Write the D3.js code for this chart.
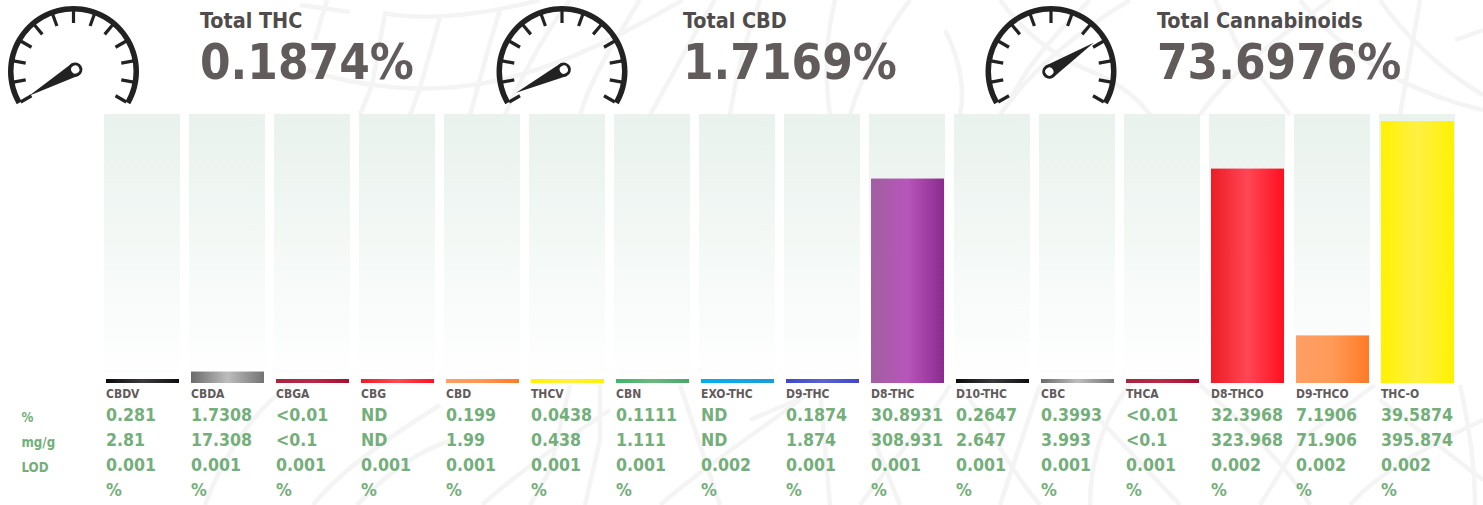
<!DOCTYPE html>
<html>
<head>
<meta charset="utf-8">
<style>
  html, body { margin: 0; padding: 0; background: #fff; }
  text { font-family: "DejaVu Sans Condensed", "DejaVu Sans", sans-serif; font-weight: bold; font-stretch: condensed; }
</style>
<script src="https://cdn.jsdelivr.net/npm/d3@7"></script>
</head>
<body>
<div id="chart"></div>
<script>
const categories = ['CBDV', 'CBDA', 'CBGA', 'CBG', 'CBD', 'THCV', 'CBN', 'EXO-THC', 'D9-THC', 'D8-THC', 'D10-THC', 'CBC', 'THCA', 'D8-THCO', 'D9-THCO', 'THC-O']
const percentLabels = ['0.281', '1.7308', '<0.01', 'ND', '0.199', '0.0438', '0.1111', 'ND', '0.1874', '30.8931', '0.2647', '0.3993', '<0.01', '32.3968', '7.1906', '39.5874']
const mgLabels = ['2.81', '17.308', '<0.1', 'ND', '1.99', '0.438', '1.111', 'ND', '1.874', '308.931', '2.647', '3.993', '<0.1', '323.968', '71.906', '395.874']
const lodLabels = ['0.001', '0.001', '0.001', '0.001', '0.001', '0.001', '0.001', '0.002', '0.001', '0.001', '0.001', '0.001', '0.001', '0.002', '0.002', '0.002']
const unitLabels = categories.map(() => '%')
const rowNames = ['%', 'mg/g', 'LOD']

const gaugeTitles = ['Total THC', 'Total CBD', 'Total Cannabinoids']
const gaugeValues = [0.1874, 1.7169, 73.6976]

// left, middle, right colour of each bar's sheen
const barColors = [
  ['#0a0a0a', '#3c3a40', '#0f0f0f'],
  ['#6a6a6a', '#bdbdbd', '#737373'],
  ['#a8253f', '#b82a45', '#a80f30'],
  ['#ee1c25', '#ff4a55', '#ff1020'],
  ['#ff9e66', '#ff9550', '#ff7a25'],
  ['#fff200', '#fff040', '#fff200'],
  ['#3cb868', '#6ab880', '#48a868'],
  ['#00aeef', '#10a8e8', '#1a9cd8'],
  ['#3f48cc', '#5a62d0', '#3f48cc'],
  ['#a0609f', '#b855bb', '#8a2a8f'],
  ['#0a0a0a', '#3c3a40', '#0f0f0f'],
  ['#6a6a6a', '#bdbdbd', '#737373'],
  ['#a8253f', '#b82a45', '#a80f30'],
  ['#ed1c24', '#ff4655', '#ff1020'],
  ['#ff9e66', '#ff9a58', '#ff7a25'],
  ['#fff200', '#fff044', '#fff200']
]

// faint wireframe behind everything
const watermark = [
  'M383,13 C420,20 470,18 540,0',
  'M300,68 C360,88 430,96 500,80 C570,64 630,30 683,0',
  'M327,0 L315,40', 'M385,14 L372,85 L360,115', 'M440,17 L420,88 L410,115',
  'M500,10 C490,40 480,80 470,115', 'M570,0 C540,40 520,80 505,115',
  'M640,0 C615,40 590,80 580,115', 'M715,0 C690,40 670,80 650,115',
  'M300,5 L350,12', 'M760,0 C745,40 735,80 730,115', 'M835,0 C825,40 825,80 830,115',
  'M910,0 C880,40 860,80 850,115', 'M945,30 C960,60 965,90 960,115',
  'M1000,0 C1030,40 1060,60 1100,75 C1120,85 1140,100 1150,115',
  'M1000,115 C1030,70 1080,30 1130,0',
  'M1090,0 C1060,30 1030,60 1010,100', 'M1200,115 C1230,70 1290,30 1330,0',
  'M1290,115 L1240,50 L1215,0', 'M1300,0 C1340,50 1400,90 1483,110',
  'M1380,0 C1400,30 1440,70 1483,95', 'M1420,0 L1400,115', 'M1455,40 L1483,30',
  'M205,505 C225,450 260,405 290,385', 'M313,505 C340,470 400,430 440,405',
  'M357,505 C390,470 420,450 452,440', 'M482,505 C520,470 580,430 610,410',
  'M530,505 L550,470 L570,385', 'M585,505 L600,440 L600,385', 'M660,505 C700,470 760,430 800,400',
  'M680,385 L720,505', 'M750,420 L820,390 L830,505', 'M860,505 C900,450 930,420 950,385',
  'M900,505 L870,430', 'M960,385 C985,420 1010,470 1040,505', 'M1040,385 L1000,505',
  'M1130,385 C1100,420 1090,470 1090,505', 'M1100,420 L1180,505', 'M1200,385 C1250,430 1290,470 1310,505',
  'M1260,505 L1300,440 L1375,385', 'M1350,505 C1380,470 1440,440 1483,420', 'M1380,400 L1483,480',
  'M1460,385 C1470,430 1475,470 1475,505'
]

const width = 1483
const height = 505
const trackTop = 114
const baseY = 383
const dark = '#625b5b'
const titleInk = '#504c4c'
const green = '#74ae7a'
const gaugeInk = '#222'

const svg = d3
  .select('#chart')
  .append('svg')
  .attr('width', width)
  .attr('height', height)
  .style('display', 'block')

const defs = svg.append('defs')

const trackGrad = defs
  .append('linearGradient')
  .attr('id', 'track')
  .attr('x1', 0)
  .attr('x2', 0)
  .attr('y1', 0)
  .attr('y2', 1)
trackGrad.append('stop').attr('offset', 0).attr('stop-color', '#e9f2ed')
trackGrad.append('stop').attr('offset', 1).attr('stop-color', '#ffffff')

barColors.forEach((c, i) => {
  const grad = defs.append('linearGradient').attr('id', 'bar' + i)
  c.forEach((col, j) => {
    grad.append('stop').attr('offset', j / 2).attr('stop-color', col)
  })
})

svg
  .append('g')
  .selectAll('path')
  .data(watermark)
  .enter()
  .append('path')
  .attr('d', d => d)
  .attr('fill', 'none')
  .attr('stroke', '#f4f4f4')
  .attr('stroke-width', 4.5)

const x = d3
  .scaleBand()
  .domain(categories)
  .range([104, 1455])
  .paddingInner(9 / 85)
const y = d3
  .scaleLinear()
  .domain([0, d3.max(percentLabels, d => parseFloat(d) || 0)])
  .range([baseY, 121])

// tracks
svg
  .append('g')
  .selectAll('rect')
  .data(categories)
  .enter()
  .append('rect')
  .attr('x', d => x(d))
  .attr('y', trackTop)
  .attr('width', x.bandwidth())
  .attr('height', baseY - trackTop)
  .attr('fill', 'url(#track)')

// bars, anything under the minimum still shows a 4px sliver
svg
  .append('g')
  .selectAll('rect')
  .data(percentLabels)
  .enter()
  .append('rect')
  .attr('x', (d, i) => x(categories[i]) + 2)
  .attr('y', d => Math.min(y(parseFloat(d) || 0), baseY - 4))
  .attr('width', 73)
  .attr('height', d => Math.max(baseY - y(parseFloat(d) || 0), 4))
  .attr('fill', (d, i) => `url(#bar${i})`)

// category names
svg
  .append('g')
  .selectAll('text')
  .data(categories)
  .enter()
  .append('text')
  .attr('x', d => x(d) + 2)
  .attr('y', 398)
  .attr('font-size', 12)
  .attr('fill', dark)
  .text(d => d)

// value rows
const rows = [percentLabels, mgLabels, lodLabels, unitLabels]
const rowY = d3.scalePoint().domain(d3.range(rows.length)).range([421, 496])
rows.forEach((row, r) => {
  svg
    .append('g')
    .selectAll('text')
    .data(row)
    .enter()
    .append('text')
    .attr('x', (d, i) => x(categories[i]) + 2)
    .attr('y', rowY(r))
    .attr('font-size', 17.6)
    .attr('fill', green)
    .text(d => d)
})

svg
  .append('g')
  .selectAll('text')
  .data(rowNames)
  .enter()
  .append('text')
  .attr('x', 21.5)
  .attr('y', (d, i) => rowY(i) + 1)
  .attr('font-size', 13.2)
  .attr('fill', green)
  .text(d => d)

// gauges
const gaugeX = [73.5, 562, 1051]
const titleX = [200, 683, 1157]
const angle = d3.scaleLinear().domain([0, 100]).range([-120, 120])
const tickAngles = d3.range(-120, 121, 20)
const gaugeArc = d3
  .arc()
  .innerRadius(60)
  .outerRadius(65.5)
  .startAngle((-120 * Math.PI) / 180)
  .endAngle((120 * Math.PI) / 180)

gaugeValues.forEach((value, i) => {
  const g = svg
    .append('g')
    .attr('transform', `translate(${gaugeX[i]},71.5)`)
  g.append('path').attr('d', gaugeArc()).attr('fill', gaugeInk)
  g
    .selectAll('line')
    .data(tickAngles)
    .enter()
    .append('line')
    .attr('y1', -61)
    .attr('y2', -48.5)
    .attr('stroke', gaugeInk)
    .attr('stroke-width', 3.2)
    .attr('transform', d => `rotate(${d})`)

  const needle = g
    .append('g')
    .attr('transform', `translate(0,-1) rotate(${angle(value)})`)
  const p = d3.path()
  p.moveTo(-7, 2)
  p.lineTo(0, -51)
  p.lineTo(7, 2)
  p.closePath()
  needle.append('path').attr('d', p.toString()).attr('fill', gaugeInk)
  needle
    .append('circle')
    .attr('cy', 2)
    .attr('r', 5.6)
    .attr('fill', '#fff')
    .attr('stroke', gaugeInk)
    .attr('stroke-width', 3)

  svg
    .append('text')
    .attr('x', titleX[i])
    .attr('y', 27.5)
    .attr('font-size', 21.4)
    .attr('fill', titleInk)
    .text(gaugeTitles[i])
  svg
    .append('text')
    .attr('x', titleX[i])
    .attr('y', 79)
    .attr('font-size', 48.9)
    .attr('fill', dark)
    .text(value + '%')
})
</script>
</body>
</html>
